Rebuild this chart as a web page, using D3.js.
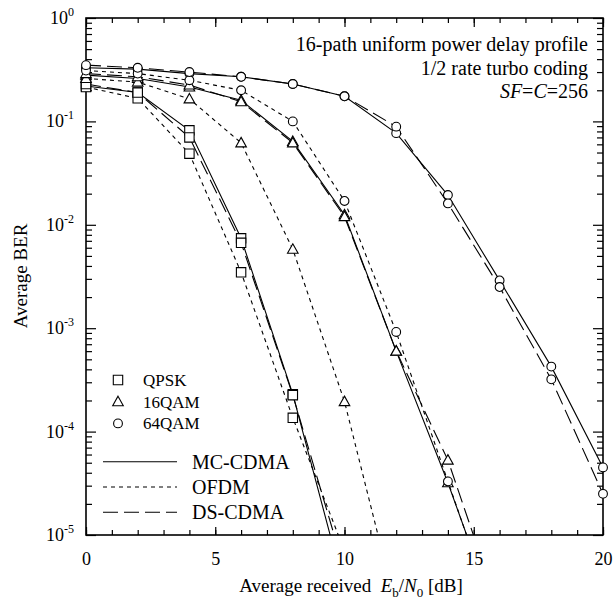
<!doctype html>
<html lang="en">
<head>
<meta charset="utf-8">
<title>Average BER vs received Eb/N0</title>
<script src="https://cdnjs.cloudflare.com/ajax/libs/d3/7.8.5/d3.min.js"></script>
<style>
body { margin: 0; background: #fff; }
svg { display: block; }
</style>
</head>
<body>
<div id="chart"></div>
<script>
/* data (values below 1e-5 only set where a line leaves the frame) */
var ebn0 = [0, 2, 4, 6, 8, 10, 12, 14, 16, 18, 20];

var qpskMC     = [0.22, 0.19, 0.082, 0.0074, 2.3e-4, 3e-6];
var qpskOFDM   = [0.215, 0.167, 0.0487, 0.00347, 1.36e-4, 7e-6];
var qpskDS     = [0.23, 0.19, 0.070, 0.0067, 2.25e-4, 4.6e-6];

var qam16MC    = [0.28, 0.26, 0.215, 0.16, 0.064, 0.0125, 6.0e-4, 3.2e-5, 1.3e-6];
var qam16OFDM  = [0.26, 0.24, 0.165, 0.062, 0.0058, 1.95e-4, 2e-6];
var qam16DS    = [0.29, 0.27, 0.225, 0.155, 0.062, 0.012, 6.0e-4, 5.3e-5, 1.8e-6];

var qam64MC    = [0.33, 0.32, 0.29, 0.27, 0.23, 0.175, 0.077, 0.0194, 0.0029, 4.25e-4, 4.5e-5];
var qam64OFDM  = [0.31, 0.29, 0.25, 0.20, 0.10, 0.017, 9.2e-4, 3.3e-5, 1.2e-6];
var qam64DS    = [0.35, 0.33, 0.30, 0.27, 0.23, 0.175, 0.089, 0.0161, 0.0025, 3.2e-4, 2.5e-5];

var xTicks = [0, 5, 10, 15, 20];
var yExponents = [0, -1, -2, -3, -4, -5];

var modulations = ['QPSK', '16QAM', '64QAM'];
var systems = ['MC-CDMA', 'OFDM', 'DS-CDMA'];

/* view */
var font = '"Liberation Serif", "Times New Roman", Times, serif';
var width = 613, height = 600;
var plot = { left: 86, top: 18, right: 603, bottom: 535 };

var markerOf = { 'QPSK': 'square', '16QAM': 'triangle', '64QAM': 'circle' };
var dashOf = { 'MC-CDMA': null, 'OFDM': '4,4', 'DS-CDMA': '15,6' };

var curves = [
	{ mod: 'QPSK', sys: 'MC-CDMA', ber: qpskMC },
	{ mod: 'QPSK', sys: 'OFDM', ber: qpskOFDM },
	{ mod: 'QPSK', sys: 'DS-CDMA', ber: qpskDS },
	{ mod: '16QAM', sys: 'MC-CDMA', ber: qam16MC },
	{ mod: '16QAM', sys: 'OFDM', ber: qam16OFDM },
	{ mod: '16QAM', sys: 'DS-CDMA', ber: qam16DS },
	{ mod: '64QAM', sys: 'MC-CDMA', ber: qam64MC },
	{ mod: '64QAM', sys: 'OFDM', ber: qam64OFDM },
	{ mod: '64QAM', sys: 'DS-CDMA', ber: qam64DS }
];

var x = d3.scaleLinear().domain([0, 20]).range([plot.left, plot.right]);
var y = d3.scaleLog().domain([1e-5, 1]).range([plot.bottom, plot.top]);

var svg = d3.select('#chart').append('svg')
	.attr('width', width)
	.attr('height', height)
	.attr('font-family', font);

svg.append('rect').attr('width', width).attr('height', height).attr('fill', '#fff');

svg.append('clipPath').attr('id', 'plotclip')
	.append('rect')
	.attr('x', plot.left).attr('y', plot.top)
	.attr('width', plot.right - plot.left)
	.attr('height', plot.bottom - plot.top);

function markerPath(type, cx, cy) {
	if (type === 'square') return 'M' + (cx - 4.7) + ',' + (cy - 4.7) + 'h9.4v9.4h-9.4z';
	if (type === 'triangle') return 'M' + cx + ',' + (cy - 5.5) + 'L' + (cx + 5.3) + ',' + (cy + 4) + 'L' + (cx - 5.3) + ',' + (cy + 4) + 'z';
	var r = 4.4;
	return 'M' + (cx - r) + ',' + cy + 'a' + r + ',' + r + ' 0 1,0 ' + (2 * r) + ',0a' + r + ',' + r + ' 0 1,0 ' + (-2 * r) + ',0z';
}

/* minor ticks */
var yMinor = [];
yExponents.slice(1).forEach(function(e){
	for (var m = 2; m <= 9; m++) yMinor.push(m * Math.pow(10, e));
});
var yMajor = yExponents.map(function(e){ return Math.pow(10, e); });
var xMinor = d3.range(0, 21);

function styleAxis(g) {
	g.select('.domain').remove();
	g.selectAll('line').attr('stroke', '#000').attr('stroke-width', 1.2);
	g.attr('font-family', font).attr('font-size', 18);
}

svg.append('g').attr('transform', 'translate(0,' + plot.bottom + ')')
	.call(d3.axisBottom(x).tickValues(xMinor).tickSize(-5).tickFormat(''))
	.call(styleAxis);
svg.append('g').attr('transform', 'translate(0,' + plot.bottom + ')')
	.call(d3.axisBottom(x).tickValues(xTicks).tickSize(-8).tickPadding(17).tickFormat(d3.format('d')))
	.call(styleAxis);
svg.append('g').attr('transform', 'translate(0,' + plot.top + ')')
	.call(d3.axisTop(x).tickValues(xMinor).tickSize(-5).tickFormat(''))
	.call(styleAxis);
svg.append('g').attr('transform', 'translate(0,' + plot.top + ')')
	.call(d3.axisTop(x).tickValues(xTicks).tickSize(-9).tickFormat(''))
	.call(styleAxis);

svg.append('g').attr('transform', 'translate(' + plot.left + ',0)')
	.call(d3.axisLeft(y).tickValues(yMinor).tickSize(-6).tickFormat(''))
	.call(styleAxis);
svg.append('g').attr('transform', 'translate(' + plot.left + ',0)')
	.call(d3.axisLeft(y).tickValues(yMajor).tickSize(-10).tickFormat(''))
	.call(styleAxis);
svg.append('g').attr('transform', 'translate(' + plot.right + ',0)')
	.call(d3.axisRight(y).tickValues(yMinor).tickSize(-6).tickFormat(''))
	.call(styleAxis);
svg.append('g').attr('transform', 'translate(' + plot.right + ',0)')
	.call(d3.axisRight(y).tickValues(yMajor).tickSize(-10).tickFormat(''))
	.call(styleAxis);

/* y tick labels as 10^n */
var yLab = svg.append('g').attr('font-size', 18).attr('text-anchor', 'end')
	.selectAll('text').data(yExponents).enter().append('text')
	.attr('x', 74)
	.attr('y', function(d){ return y(Math.pow(10, d)) + 6; });
yLab.append('tspan').text('10');
yLab.append('tspan').attr('font-size', 12).attr('dy', -8)
	.text(function(d){ return d === 0 ? '0' : '-' + (-d); });

/* frame */
svg.append('rect')
	.attr('x', plot.left).attr('y', plot.top)
	.attr('width', plot.right - plot.left).attr('height', plot.bottom - plot.top)
	.attr('fill', 'none').attr('stroke', '#000').attr('stroke-width', 1.6);

/* curves */
var line = d3.line()
	.x(function(d, i){ return x(ebn0[i]); })
	.y(function(d){ return y(d); });

svg.append('g').attr('clip-path', 'url(#plotclip)')
	.selectAll('path').data(curves).enter().append('path')
	.attr('d', function(c){ return line(c.ber); })
	.attr('fill', 'none')
	.attr('stroke', '#000')
	.attr('stroke-width', 1.1)
	.attr('stroke-dasharray', function(c){ return dashOf[c.sys]; });

var pts = [];
curves.forEach(function(c){
	c.ber.forEach(function(v, i){
		if (v >= 1e-5) pts.push({ type: markerOf[c.mod], x: ebn0[i], v: v });
	});
});
svg.append('g').selectAll('path').data(pts).enter().append('path')
	.attr('d', function(p){ return markerPath(p.type, x(p.x), y(p.v)); })
	.attr('fill', '#fff')
	.attr('stroke', '#000')
	.attr('stroke-width', 1.1);

/* legend: modulations */
var legMod = svg.append('g');
modulations.forEach(function(m, i){
	var cy = 380 + i * 21.7;
	legMod.append('path').attr('d', markerPath(markerOf[m], 118, cy))
		.attr('fill', '#fff').attr('stroke', '#000').attr('stroke-width', 1.1);
	legMod.append('text').attr('x', 143).attr('y', cy + 6)
		.attr('font-size', 17).text(m);
});

/* legend: systems */
var legSys = svg.append('g');
systems.forEach(function(s, i){
	var ly = 461.7 + i * 25.3;
	legSys.append('line')
		.attr('x1', 103).attr('x2', 177).attr('y1', ly).attr('y2', ly)
		.attr('stroke', '#000').attr('stroke-width', 1.1)
		.attr('stroke-dasharray', dashOf[s]);
	legSys.append('text').attr('x', 192).attr('y', ly + 7)
		.attr('font-size', 20).text(s);
});

/* annotation */
var note = svg.append('g').attr('font-size', 20).attr('text-anchor', 'end');
note.append('text').attr('x', 588).attr('y', 51).text('16-path uniform power delay profile');
note.append('text').attr('x', 588).attr('y', 75).text('1/2 rate turbo coding');
var sf = note.append('text').attr('x', 588).attr('y', 98);
sf.append('tspan').attr('font-style', 'italic').text('SF');
sf.append('tspan').text('=');
sf.append('tspan').attr('font-style', 'italic').text('C');
sf.append('tspan').text('=256');

/* axis titles */
var xt = svg.append('text').attr('x', 351).attr('y', 592)
	.attr('font-size', 19).attr('text-anchor', 'middle');
xt.append('tspan').text('Average received\u00a0\u00a0');
xt.append('tspan').attr('font-style', 'italic').text('E');
xt.append('tspan').attr('font-size', 13).attr('dy', 5).text('b');
xt.append('tspan').attr('dy', -5).text('/');
xt.append('tspan').attr('font-style', 'italic').text('N');
xt.append('tspan').attr('font-size', 13).attr('dy', 5).text('0');
xt.append('tspan').attr('dy', -5).text(' [dB]');

svg.append('text')
	.attr('transform', 'translate(27,276) rotate(-90)')
	.attr('font-size', 19).attr('text-anchor', 'middle')
	.text('Average BER');
</script>
</body>
</html>
